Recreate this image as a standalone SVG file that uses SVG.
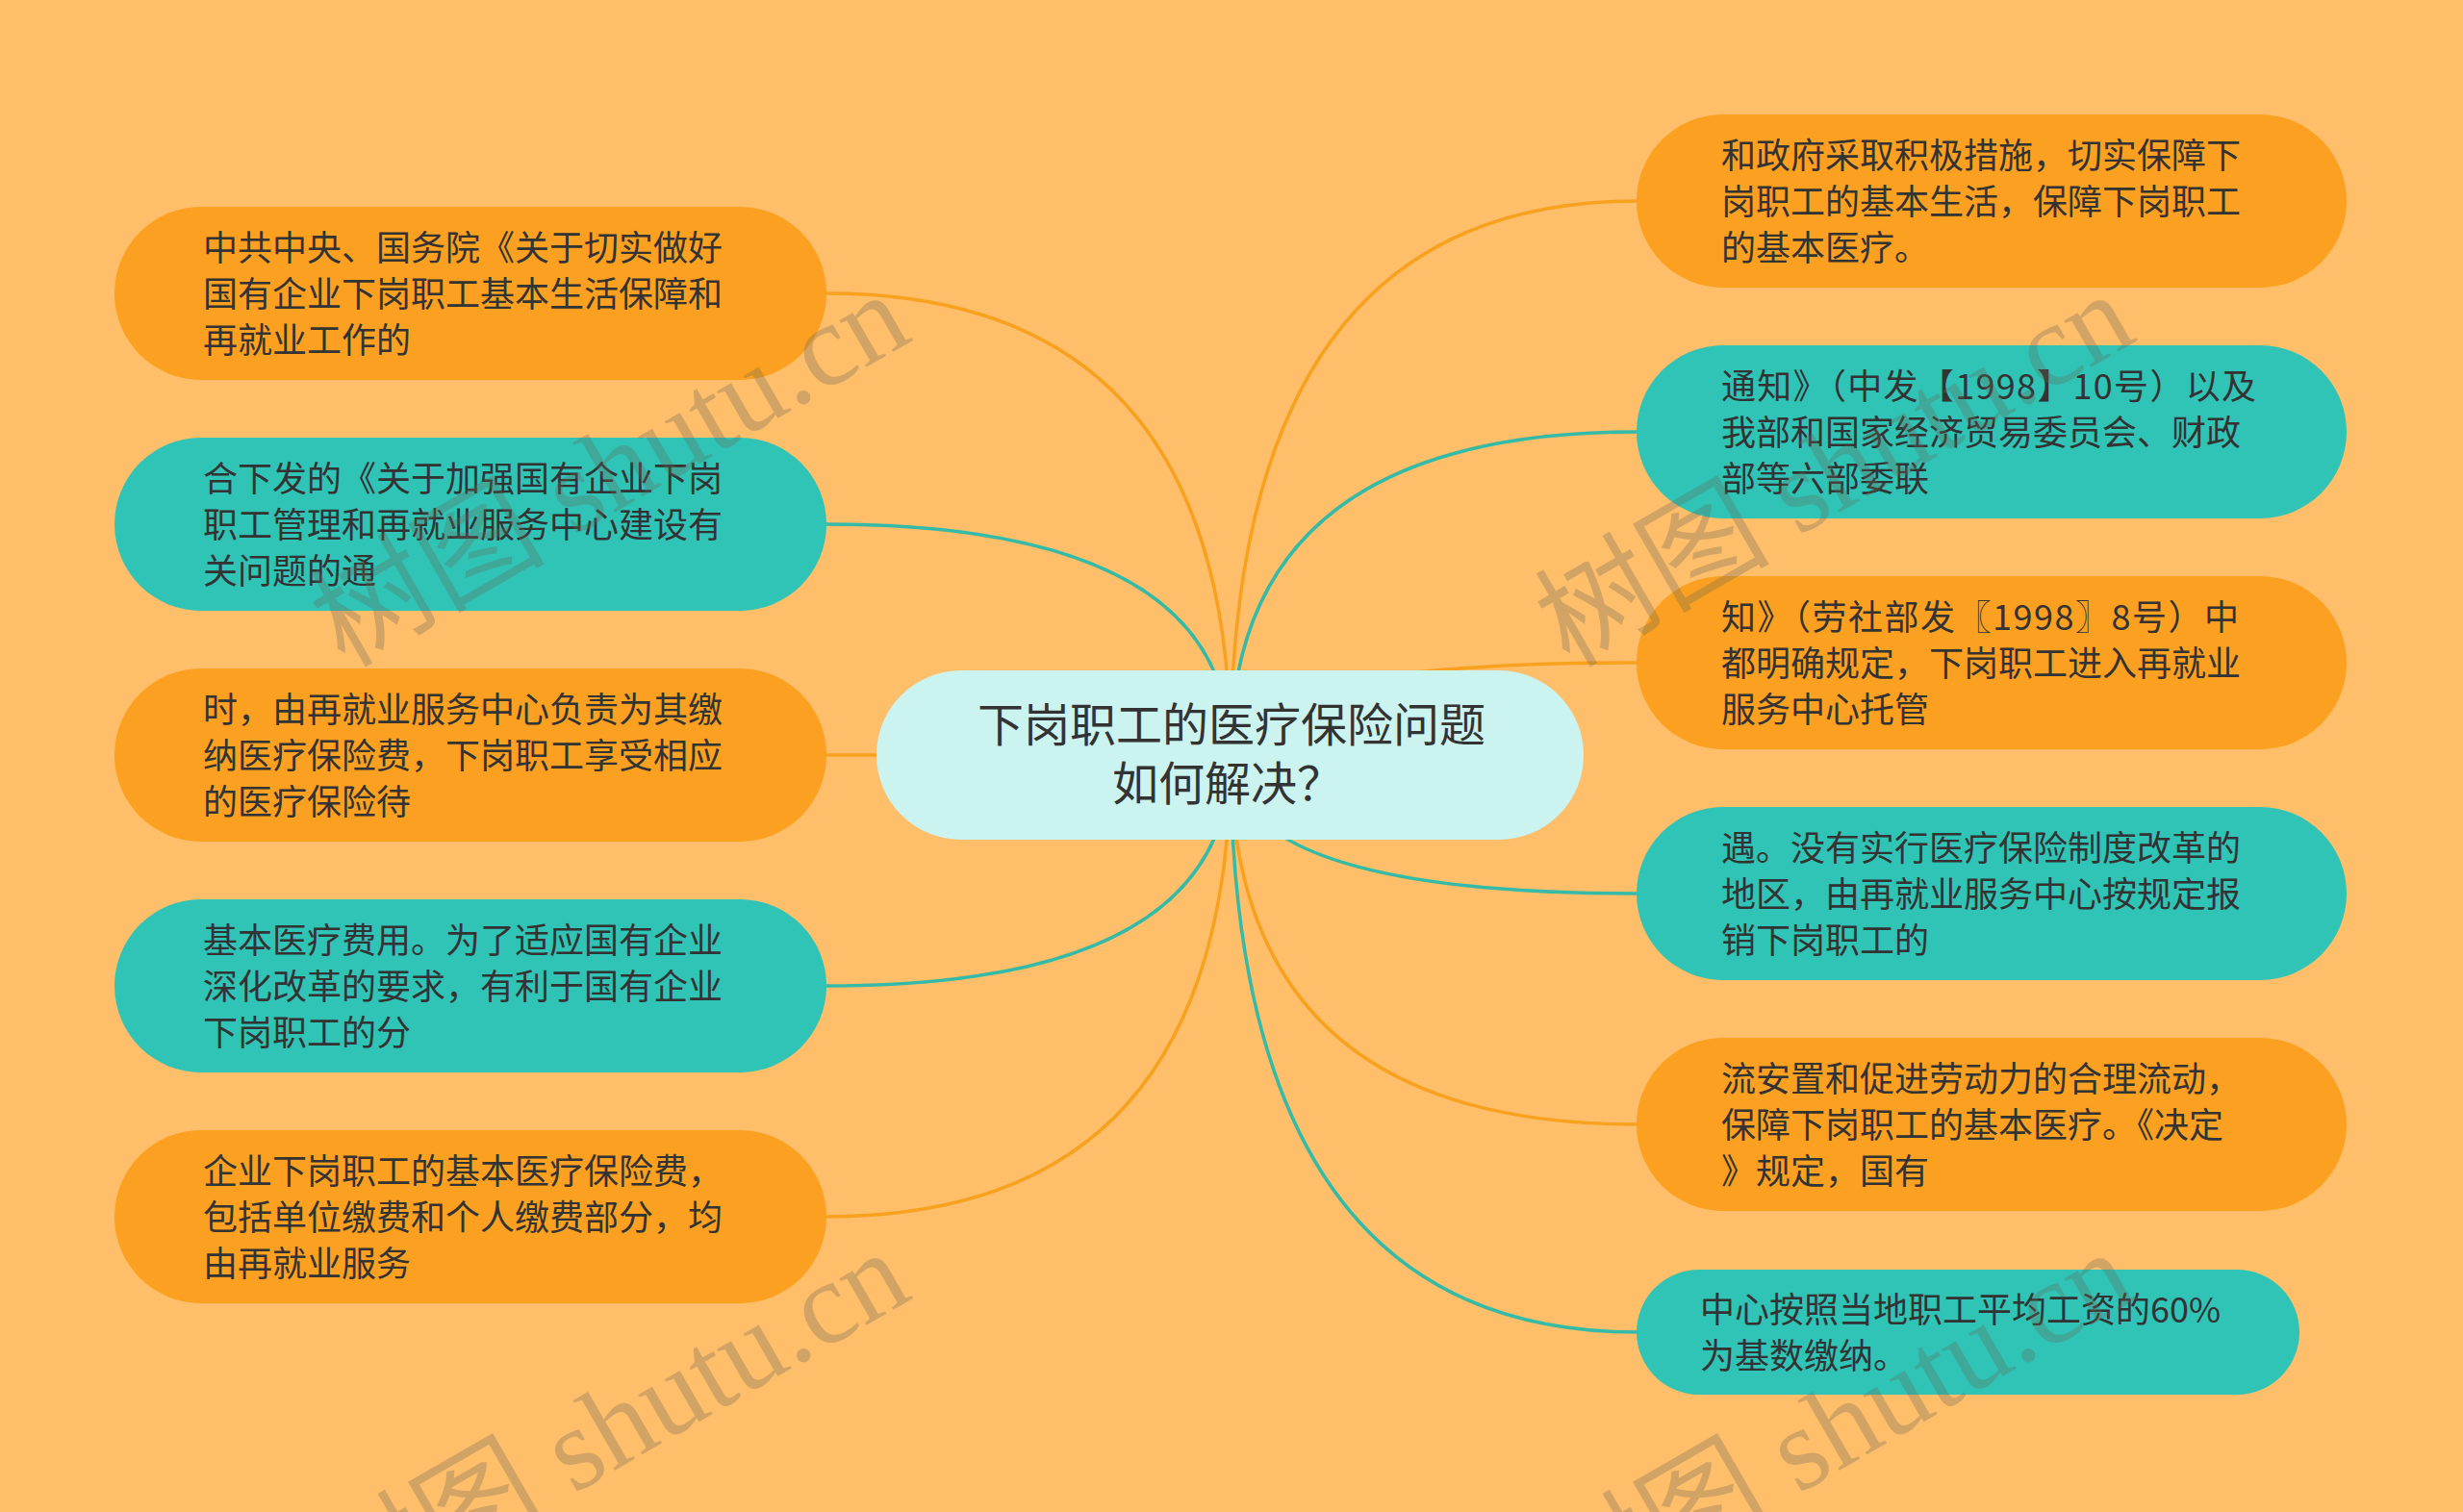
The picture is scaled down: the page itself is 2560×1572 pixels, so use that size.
<svg xmlns="http://www.w3.org/2000/svg" width="2560" height="1572" viewBox="0 0 2560 1572">
<style>
.bg{fill:#FFBE6A}
.o{fill:#FBA020}
.t{fill:#2FC4B6}
.c{fill:#CBF3EF}
.txt{font-family:"Noto Sans CJK SC","Noto Sans",sans-serif;font-size:36px;fill:#333333}
.title{font-family:"Noto Sans CJK SC","Noto Sans",sans-serif;font-size:48px;fill:#333333;text-anchor:middle}
.lo{fill:none;stroke:#F7A11F;stroke-width:3.5}
.lt{fill:none;stroke:#33BBA8;stroke-width:3.5}
.wm{font-family:"Liberation Serif","Noto Sans CJK SC",serif;font-size:122px;fill:#6A6A5A;opacity:0.3}
</style>
<rect class="bg" x="0" y="0" width="2560" height="1572"/>
<g id="connectors">
<path class="lo" d="M1279 785 Q1279 305 859 305"/>
<path class="lt" d="M1279 785 Q1279 545 859 545"/>
<path class="lo" d="M1279 785 L859 785"/>
<path class="lt" d="M1279 785 Q1279 1025 859 1025"/>
<path class="lo" d="M1279 785 Q1279 1265 859 1265"/>
<path class="lo" d="M1279 785 Q1279 209 1701 209"/>
<path class="lt" d="M1279 785 Q1279 449 1701 449"/>
<path class="lo" d="M1279 785 Q1279 689 1701 689"/>
<path class="lt" d="M1279 785 Q1279 929 1701 929"/>
<path class="lo" d="M1279 785 Q1279 1169 1701 1169"/>
<path class="lt" d="M1279 785 Q1279 1385 1701 1385"/>
</g>
<g id="center">
<rect class="c" x="911" y="697" width="735" height="176" rx="88"/>
<text class="title" x="1280" y="771">下岗职工的医疗保险问题</text>
<text class="title" x="1276" y="832">如何解决？</text>
</g>
<g id="left1">
<rect class="o" x="119" y="215" width="740" height="180" rx="90"/>
<text class="txt" x="211" y="271">中共中央、国务院《关于切实做好</text>
<text class="txt" x="211" y="319">国有企业下岗职工基本生活保障和</text>
<text class="txt" x="211" y="367">再就业工作的</text>
</g>
<g id="left2">
<rect class="t" x="119" y="455" width="740" height="180" rx="90"/>
<text class="txt" x="211" y="511">合下发的《关于加强国有企业下岗</text>
<text class="txt" x="211" y="559">职工管理和再就业服务中心建设有</text>
<text class="txt" x="211" y="607">关问题的通</text>
</g>
<g id="left3">
<rect class="o" x="119" y="695" width="740" height="180" rx="90"/>
<text class="txt" x="211" y="751">时，由再就业服务中心负责为其缴</text>
<text class="txt" x="211" y="799">纳医疗保险费，下岗职工享受相应</text>
<text class="txt" x="211" y="847">的医疗保险待</text>
</g>
<g id="left4">
<rect class="t" x="119" y="935" width="740" height="180" rx="90"/>
<text class="txt" x="211" y="991">基本医疗费用。为了适应国有企业</text>
<text class="txt" x="211" y="1039">深化改革的要求，有利于国有企业</text>
<text class="txt" x="211" y="1087">下岗职工的分</text>
</g>
<g id="left5">
<rect class="o" x="119" y="1175" width="740" height="180" rx="90"/>
<text class="txt" x="211" y="1231">企业下岗职工的基本医疗保险费，</text>
<text class="txt" x="211" y="1279">包括单位缴费和个人缴费部分，均</text>
<text class="txt" x="211" y="1327">由再就业服务</text>
</g>
<g id="right1">
<rect class="o" x="1701" y="119" width="738" height="180" rx="90"/>
<text class="txt" x="1789" y="175">和政府采取积极措施，切实保障下</text>
<text class="txt" x="1789" y="223">岗职工的基本生活，保障下岗职工</text>
<text class="txt" x="1789" y="271">的基本医疗。</text>
</g>
<g id="right2">
<rect class="t" x="1701" y="359" width="738" height="180" rx="90"/>
<text class="txt" x="1789" y="415" textLength="556" lengthAdjust="spacing">通知》（中发【1998】10号）以及</text>
<text class="txt" x="1789" y="463">我部和国家经济贸易委员会、财政</text>
<text class="txt" x="1789" y="511">部等六部委联</text>
</g>
<g id="right3">
<rect class="o" x="1701" y="599" width="738" height="180" rx="90"/>
<text class="txt" x="1789" y="655" textLength="538" lengthAdjust="spacing">知》（劳社部发〖1998〗8号）中</text>
<text class="txt" x="1789" y="703">都明确规定，下岗职工进入再就业</text>
<text class="txt" x="1789" y="751">服务中心托管</text>
</g>
<g id="right4">
<rect class="t" x="1701" y="839" width="738" height="180" rx="90"/>
<text class="txt" x="1789" y="895">遇。没有实行医疗保险制度改革的</text>
<text class="txt" x="1789" y="943">地区，由再就业服务中心按规定报</text>
<text class="txt" x="1789" y="991">销下岗职工的</text>
</g>
<g id="right5">
<rect class="o" x="1701" y="1079" width="738" height="180" rx="90"/>
<text class="txt" x="1789" y="1135">流安置和促进劳动力的合理流动，</text>
<text class="txt" x="1789" y="1183">保障下岗职工的基本医疗。《决定</text>
<text class="txt" x="1789" y="1231">》规定，国有</text>
</g>
<g id="right6">
<rect class="t" x="1701" y="1320" width="689" height="130" rx="65"/>
<text class="txt" x="1767" y="1375">中心按照当地职工平均工资的60%</text>
<text class="txt" x="1767" y="1423">为基数缴纳。</text>
</g>
<g id="watermarks">
<text class="wm" transform="translate(358 695) rotate(-30)">树图 shutu.cn</text>
<text class="wm" transform="translate(1631 695) rotate(-30)">树图 shutu.cn</text>
<text class="wm" transform="translate(358 1691) rotate(-30)">树图 shutu.cn</text>
<text class="wm" transform="translate(1631 1691) rotate(-30)">树图 shutu.cn</text>
</g>
</svg>
